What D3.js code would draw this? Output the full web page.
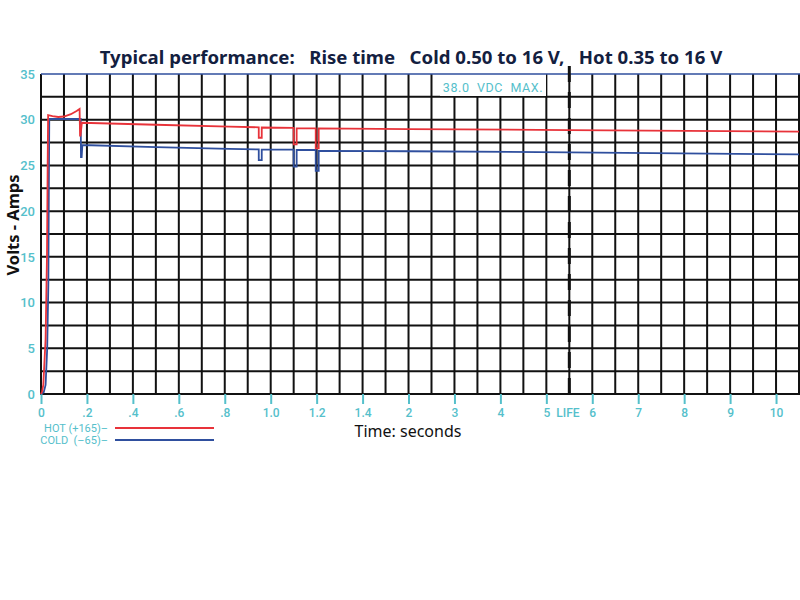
<!DOCTYPE html>
<html><head><meta charset="utf-8">
<script src="https://cdn.jsdelivr.net/npm/d3@7"></script>
<style>body{margin:0;background:#fff}svg{display:block}</style>
</head><body><svg id="c" width="800" height="600"></svg>
<script>
// ---- data ----
const hotT   = [0, 0.005, 0.01, 0.02, 0.026, 0.029, 0.031, 0.05, 0.075, 0.1, 0.13, 0.155, 0.168, 0.17, 0.172, 0.178, 0.5, 0.82, 0.948, 0.948, 0.961, 0.961, 1.10, 1.10, 1.113, 1.113, 1.196, 1.196, 1.209, 1.209, 2, 5.5, 10.5];
const hotV   = [0, 0.3, 1, 6, 15, 25, 30.5, 30.4, 30.3, 30.35, 30.6, 30.95, 31.17, 28.27, 28.27, 29.67, 29.45, 29.24, 29.17, 28.03, 28.03, 29.15, 29.1, 27.31, 27.31, 29.06, 29.06, 26.87, 26.87, 29.06, 28.98, 28.87, 28.69];
const coldT  = [0, 0.012, 0.02, 0.027, 0.032, 0.034, 0.036, 0.1, 0.173, 0.174, 0.177, 0.18, 0.5, 0.82, 0.948, 0.948, 0.961, 0.961, 1.10, 1.10, 1.113, 1.113, 1.196, 1.196, 1.209, 1.209, 2, 5.5, 10.5];
const coldV  = [0, 0.2, 1, 5, 12, 22, 30.08, 30.08, 30.08, 25.9, 25.9, 27.23, 27.0, 26.8, 26.76, 25.59, 25.59, 26.72, 26.72, 24.86, 24.86, 26.69, 26.69, 24.42, 24.42, 26.6, 26.55, 26.43, 26.2];
const xTickVals  = [0, 0.2, 0.4, 0.6, 0.8, 1.0, 1.2, 1.4, 2, 3, 4, 5, 6, 7, 8, 9, 10];
const xTickLabels = ["0", ".2", ".4", ".6", ".8", "1.0", "1.2", "1.4", "2", "3", "4", "5", "6", "7", "8", "9", "10"];
const xGrid = [0,0.1,0.2,0.3,0.4,0.5,0.6,0.7,0.8,0.9,1.0,1.1,1.2,1.3,1.4,1.7,2,2.5,3,3.5,4,4.5,5,5.5,6,6.5,7,7.5,8,8.5,9,9.5,10,10.5];
const yTicks = [0, 5, 10, 15, 20, 25, 30, 35];
const yGrid  = [0,2.5,5,7.5,10,12.5,15,17.5,20,22.5,25,27.5,30,32.5];
const lifeT = 5.5;
const maxV = 35;
const seriesNames = ["HOT (+165)\u2013", "COLD  (\u201365)\u2013"];

// ---- layout ----
const svg = d3.select("#c");
const x0 = 41, step = 22.97;
const x = d3.scaleLinear().domain([0, 1.4, 2, 10.5]).range([x0, x0 + 14*step, x0 + 16*step, x0 + 33*step]);
const y = d3.scaleLinear().domain([0, 35]).range([394, 74]);
const cyan = "#55c0cb", red = "#e8333a", blue = "#2f4f9e", ink = "#111";
const tickFont = "Roboto, sans-serif";

// grid
svg.append("g").selectAll("line").data(xGrid).join("line")
  .attr("x1", d => x(d)).attr("x2", d => x(d)).attr("y1", y(35)).attr("y2", y(0))
  .attr("stroke", ink).attr("stroke-width", 2);
svg.append("g").selectAll("line").data(yGrid).join("line")
  .attr("x1", x(0) - 1).attr("x2", 800).attr("y1", d => y(d)).attr("y2", d => y(d))
  .attr("stroke", ink).attr("stroke-width", 2);

// max text with white background
svg.append("rect").attr("x", 440).attr("y", y(maxV)).attr("width", 106).attr("height", 22).attr("fill", "#fff");
svg.append("text").attr("x", 493).attr("y", 92).attr("text-anchor", "middle")
  .attr("xml:space", "preserve").style("white-space", "pre").attr("letter-spacing", 0.6)
  .text("38.0  VDC  MAX.").attr("fill", cyan).attr("font-family", tickFont).attr("font-size", 12.5);

// top max line
svg.append("line").attr("x1", x(0)).attr("x2", 800).attr("y1", y(maxV)).attr("y2", y(maxV))
  .attr("stroke", blue).attr("stroke-width", 1.5);

// life dashed line
svg.append("line").attr("x1", x(lifeT)).attr("x2", x(lifeT)).attr("y1", 66).attr("y2", y(0))
  .attr("stroke", ink).attr("stroke-width", 3).attr("stroke-dasharray", "16,10");

// x axis ticks
const xa = svg.append("g").attr("transform", `translate(0,${y(0)})`)
  .call(d3.axisBottom(x).tickValues(xTickVals).tickFormat((d, i) => xTickLabels[i]).tickSize(10).tickPadding(4));
xa.select(".domain").remove();
xa.selectAll(".tick line").attr("stroke", cyan).attr("stroke-width", 2);
xa.selectAll(".tick text").attr("fill", cyan).attr("font-family", tickFont).attr("font-size", 12).attr("font-weight", 500);
svg.append("text").attr("x", x(5) + 10).attr("y", y(0) + 14).attr("dy", "0.71em").text("LIFE")
  .attr("fill", cyan).attr("font-family", tickFont).attr("font-size", 12).attr("font-weight", 500);

// y axis labels
const ya = svg.append("g").attr("transform", `translate(${x0},0)`)
  .call(d3.axisLeft(y).tickValues(yTicks).tickSize(0).tickPadding(6));
ya.select(".domain").remove();
ya.selectAll(".tick text").attr("fill", cyan).attr("font-family", tickFont).attr("font-size", 13).attr("font-weight", 500);

// lines
const line = d3.line().x(d => x(d[0])).y(d => y(d[1]));
svg.append("path").datum(coldT.map((t, i) => [t, coldV[i]])).attr("d", line)
  .attr("fill", "none").attr("stroke", blue).attr("stroke-width", 1.8);
svg.append("path").datum(hotT.map((t, i) => [t, hotV[i]])).attr("d", line)
  .attr("fill", "none").attr("stroke", red).attr("stroke-width", 1.8);

// title
svg.append("text").attr("x", 411).attr("y", 64).attr("text-anchor", "middle")
  .attr("xml:space", "preserve").style("white-space", "pre")
  .text("Typical performance:   Rise time   Cold 0.50 to 16 V,   Hot 0.35 to 16 V")
  .attr("fill", "#13203f").attr("font-family", "'Noto Sans', sans-serif").attr("font-size", 18.6).attr("font-weight", 700);

// axis titles
svg.append("text").attr("transform", "translate(19,225) rotate(-90)").attr("text-anchor", "middle")
  .text("Volts - Amps").attr("fill", ink).attr("font-family", "'Noto Sans', sans-serif").attr("font-size", 16.5).attr("font-weight", 700);
svg.append("text").attr("x", 408).attr("y", 437).attr("text-anchor", "middle")
  .text("Time: seconds").attr("fill", ink).attr("font-family", "'Noto Sans', sans-serif").attr("font-size", 16);

// legend
const leg = svg.append("g");
[[seriesNames[0], red, 428], [seriesNames[1], blue, 440]].forEach(([name, col, ly]) => {
  leg.append("text").attr("x", 108).attr("y", ly + 4).attr("text-anchor", "end")
    .attr("xml:space", "preserve").style("white-space", "pre")
    .text(name).attr("fill", cyan).attr("font-family", tickFont).attr("font-size", 11);
  leg.append("line").attr("x1", 115).attr("x2", 214).attr("y1", ly).attr("y2", ly)
    .attr("stroke", col).attr("stroke-width", 1.8);
});
</script></body></html>
